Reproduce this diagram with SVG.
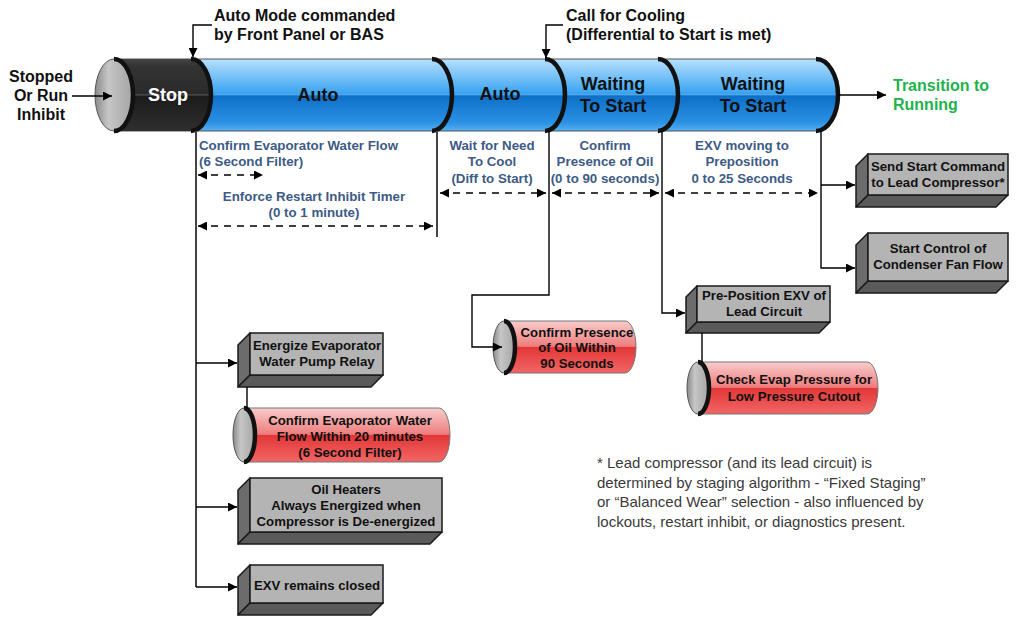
<svg xmlns="http://www.w3.org/2000/svg" width="1018" height="618" viewBox="0 0 1018 618">
<defs>
<linearGradient id="blueG" x1="0" y1="0" x2="0" y2="1">
<stop offset="0" stop-color="#b8e2fd"/><stop offset="0.12" stop-color="#98d1fa"/><stop offset="0.48" stop-color="#3aa3f1"/><stop offset="0.5" stop-color="#2e98ea"/><stop offset="0.5" stop-color="#0c6ec6"/><stop offset="0.88" stop-color="#2b91e4"/><stop offset="1" stop-color="#55aff0"/>
</linearGradient>
<linearGradient id="darkG" x1="0" y1="0" x2="0" y2="1">
<stop offset="0" stop-color="#444"/><stop offset="0.1" stop-color="#333"/><stop offset="0.5" stop-color="#2a2a2a"/><stop offset="0.5" stop-color="#1b1b1b"/><stop offset="1" stop-color="#2e2e2e"/>
</linearGradient>
<linearGradient id="capG" x1="0" y1="0" x2="1" y2="0">
<stop offset="0" stop-color="#8a8a8a"/><stop offset="0.35" stop-color="#c6c6c6"/><stop offset="1" stop-color="#a4a4a4"/>
</linearGradient>
<linearGradient id="redG" x1="0" y1="0" x2="0" y2="1">
<stop offset="0" stop-color="#f9cccc"/><stop offset="0.45" stop-color="#ef8383"/><stop offset="0.5" stop-color="#ec7272"/><stop offset="0.5" stop-color="#e23636"/><stop offset="1" stop-color="#f26666"/>
</linearGradient>
<marker id="ah" viewBox="0 0 10 10" refX="10" refY="5" markerWidth="10" markerHeight="9" markerUnits="userSpaceOnUse" orient="auto-start-reverse"><path d="M0,0 L10,5 L0,10 Z" fill="#000"/></marker>
</defs>
<style>
text{font-family:"Liberation Sans",Arial,sans-serif;font-weight:bold}
.ann{font-size:16px;fill:#111}
.cyl{font-size:18px;fill:#111;text-anchor:middle}
.lbl{font-size:13.3px;fill:#3d5b85}
.mid{text-anchor:middle}
.bt{font-size:13.2px;fill:#111;text-anchor:middle}
.note{font-size:15px;font-weight:normal;fill:#3a3a3a}
.face{fill:#b4b4b4;stroke:#1a1a1a;stroke-width:1.5}
.side{fill:#6c6c6c;stroke:#1a1a1a;stroke-width:1.5;stroke-linejoin:round}
.bot{fill:#5a5a5a;stroke:#1a1a1a;stroke-width:1.5;stroke-linejoin:round}
.cap{fill:url(#capG);stroke:#555;stroke-width:1}
.div{fill:none;stroke:#111;stroke-width:4.5}
.ln{fill:none;stroke:#000;stroke-width:1.4}
.vl{fill:none;stroke:#444;stroke-width:2}
.da{fill:none;stroke:#000;stroke-width:1.4;stroke-dasharray:7,6}
</style>

<!-- Main cylinder -->
<g id="main-cylinder">
<path d="M114,59 H816 A22,36 0 0 1 816,131 H114 Z" fill="url(#blueG)" stroke="#555" stroke-width="1"/>
<path d="M114,59 H191 A20,36 0 0 1 191,131 H114 Z" fill="url(#darkG)"/>
<line x1="114" y1="95" x2="836" y2="95" stroke="#ffffff" stroke-opacity="0.25" stroke-width="1"/>
<ellipse cx="114" cy="95" rx="19" ry="36" class="cap"/>
<path d="M114,59 A19,36 0 0 1 114,131" class="div" stroke-width="3.5"/>
<path d="M191,59 A20,36 0 0 1 191,131" class="div"/>
<path d="M432,59 A20,36 0 0 1 432,131" class="div"/>
<path d="M545,59 A20,36 0 0 1 545,131" class="div"/>
<path d="M658,59 A20,36 0 0 1 658,131" class="div"/>
<path d="M816,59 A22,36 0 0 1 816,131" class="div"/>
<text x="168" y="101" class="cyl" style="fill:#fff">Stop</text>
<text x="318" y="101" class="cyl">Auto</text>
<text x="500" y="100" class="cyl">Auto</text>
<text x="613" y="90" class="cyl">Waiting</text>
<text x="613" y="112" class="cyl">To Start</text>
<text x="753" y="90" class="cyl">Waiting</text>
<text x="753" y="112" class="cyl">To Start</text>
</g>

<!-- Annotations -->
<g id="label-stopped">
<text x="41" y="82" class="ann mid">Stopped</text>
<text x="41" y="101" class="ann mid">Or Run</text>
<text x="41" y="120" class="ann mid">Inhibit</text>
</g>
<g id="label-auto-mode">
<text x="214" y="21" class="ann">Auto Mode commanded</text>
<text x="214" y="40" class="ann">by Front Panel or BAS</text>
</g>
<g id="label-call-cooling">
<text x="566" y="21" class="ann">Call for Cooling</text>
<text x="566" y="40" class="ann">(Differential to Start is met)</text>
</g>
<g id="label-transition">
<text x="893" y="91" class="ann" style="fill:#22b24c">Transition to</text>
<text x="893" y="110" class="ann" style="fill:#22b24c">Running</text>
</g>

<!-- Timing labels -->
<g id="timing-labels">
<text x="199" y="150" class="lbl">Confirm Evaporator Water Flow</text>
<text x="199" y="166" class="lbl">(6 Second Filter)</text>
<text x="314" y="201" class="lbl mid">Enforce Restart Inhibit Timer</text>
<text x="314" y="217" class="lbl mid">(0 to 1 minute)</text>
<text x="492" y="150" class="lbl mid">Wait for Need</text>
<text x="492" y="166" class="lbl mid">To Cool</text>
<text x="492" y="183" class="lbl mid">(Diff to Start)</text>
<text x="605" y="150" class="lbl mid">Confirm</text>
<text x="605" y="166" class="lbl mid">Presence of Oil</text>
<text x="605" y="183" class="lbl mid">(0 to 90 seconds)</text>
<text x="742" y="150" class="lbl mid">EXV moving to</text>
<text x="742" y="166" class="lbl mid">Preposition</text>
<text x="742" y="183" class="lbl mid">0 to 25 Seconds</text>
</g>

<!-- Boxes -->
<g id="box-send-start">
<path d="M868,154 L856,166 L856,207 L868,195 Z" class="side"/>
<path d="M868,195 L856,207 L996,207 L1008,195 Z" class="bot"/>
<rect x="868" y="154" width="140" height="41" class="face"/>
<text x="938" y="171" class="bt">Send Start Command</text>
<text x="938" y="187" class="bt">to Lead Compressor*</text>
</g>
<g id="box-condenser-fan">
<path d="M868,233 L856,245 L856,293 L868,281 Z" class="side"/>
<path d="M868,281 L856,293 L996,293 L1008,281 Z" class="bot"/>
<rect x="868" y="233" width="140" height="48" class="face"/>
<text x="938" y="253" class="bt">Start Control of</text>
<text x="938" y="269" class="bt">Condenser Fan Flow</text>
</g>
<g id="box-preposition">
<path d="M697,286 L686,297 L686,333 L697,322 Z" class="side"/>
<path d="M697,322 L686,333 L819,333 L830,322 Z" class="bot"/>
<rect x="697" y="286" width="133" height="36" class="face"/>
<text x="764" y="300" class="bt">Pre-Position EXV of</text>
<text x="764" y="316" class="bt">Lead Circuit</text>
</g>
<g id="box-energize">
<path d="M250,333 L238,345 L238,387 L250,375 Z" class="side"/>
<path d="M250,375 L238,387 L371,387 L383,375 Z" class="bot"/>
<rect x="250" y="333" width="133" height="42" class="face"/>
<text x="317" y="350" class="bt">Energize Evaporator</text>
<text x="317" y="366" class="bt">Water Pump Relay</text>
</g>
<g id="box-oil-heaters">
<path d="M250,478 L238,490 L238,544 L250,532 Z" class="side"/>
<path d="M250,532 L238,544 L430,544 L442,532 Z" class="bot"/>
<rect x="250" y="478" width="192" height="54" class="face"/>
<text x="346" y="494" class="bt">Oil Heaters</text>
<text x="346" y="510" class="bt">Always Energized when</text>
<text x="346" y="526" class="bt">Compressor is De-energized</text>
</g>
<g id="box-exv-closed">
<path d="M250,565 L238,577 L238,615 L250,603 Z" class="side"/>
<path d="M250,603 L238,615 L371,615 L383,603 Z" class="bot"/>
<rect x="250" y="565" width="133" height="38" class="face"/>
<text x="317" y="590" class="bt">EXV remains closed</text>
</g>

<!-- Red cylinders -->
<g id="cyl-confirm-oil">
<path d="M504,321 H625 A11,26 0 0 1 625,373 H504 Z" fill="url(#redG)" stroke="#777" stroke-width="1"/>
<ellipse cx="504" cy="347" rx="11" ry="26" class="cap"/>
<path d="M504,321 A11,26 0 0 1 504,373" class="div" stroke-width="3"/>
<text x="577" y="337" class="bt">Confirm Presence</text>
<text x="577" y="352" class="bt">of Oil Within</text>
<text x="577" y="368" class="bt">90 Seconds</text>
</g>
<g id="cyl-check-evap">
<path d="M698,362 H867 A11,26 0 0 1 867,414 H698 Z" fill="url(#redG)" stroke="#777" stroke-width="1"/>
<ellipse cx="698" cy="388" rx="11" ry="26" class="cap"/>
<path d="M698,362 A11,26 0 0 1 698,414" class="div" stroke-width="3"/>
<text x="794" y="384" class="bt">Check Evap Pressure for</text>
<text x="794" y="401" class="bt">Low Pressure Cutout</text>
</g>
<g id="cyl-confirm-water">
<path d="M244,408 H439 A11,27 0 0 1 439,462 H244 Z" fill="url(#redG)" stroke="#777" stroke-width="1"/>
<ellipse cx="244" cy="435" rx="11" ry="27" class="cap"/>
<path d="M244,408 A11,27 0 0 1 244,462" class="div" stroke-width="3"/>
<text x="350" y="425" class="bt">Confirm Evaporator Water</text>
<text x="350" y="441" class="bt">Flow Within 20 minutes</text>
<text x="350" y="457" class="bt">(6 Second Filter)</text>
</g>

<!-- Connectors -->
<g id="connectors">
<path d="M72,96 H112" class="ln" marker-end="url(#ah)"/>
<path d="M838,95 H886" class="ln" marker-end="url(#ah)"/>
<path d="M212,25 H193 V57" class="ln" marker-end="url(#ah)"/>
<path d="M563,25 H546 V58" class="ln" marker-end="url(#ah)"/>
<path d="M196,131 V587" class="vl"/>
<path d="M196,363 H237" class="ln" marker-end="url(#ah)"/>
<path d="M196,507 H237" class="ln" marker-end="url(#ah)"/>
<path d="M196,587 H237" class="ln" marker-end="url(#ah)"/>
<path d="M247,387 V408" class="ln"/>
<path d="M437,131 V237" class="vl"/>
<path d="M549,131 V295 H472 V347 H502" class="ln" marker-end="url(#ah)"/>
<path d="M662,131 V313 H685" class="ln" marker-end="url(#ah)"/>
<path d="M702,333 V362" class="ln"/>
<path d="M821,131 V268 H855" class="ln" marker-end="url(#ah)"/>
<path d="M821,185 H855" class="ln" marker-end="url(#ah)"/>
<path d="M198,175 H263" class="da" marker-start="url(#ah)" marker-end="url(#ah)"/>
<path d="M198,226 H433" class="da" marker-start="url(#ah)" marker-end="url(#ah)"/>
<path d="M440,193 H546" class="da" marker-start="url(#ah)" marker-end="url(#ah)"/>
<path d="M552,193 H659" class="da" marker-start="url(#ah)" marker-end="url(#ah)"/>
<path d="M665,193 H818" class="da" marker-start="url(#ah)" marker-end="url(#ah)"/>
</g>

<!-- Footnote -->
<g id="footnote">
<text x="597" y="468" class="note">* Lead compressor (and its lead circuit) is</text>
<text x="597" y="488" class="note">determined by staging algorithm - “Fixed Staging”</text>
<text x="597" y="507" class="note">or “Balanced Wear” selection - also influenced by</text>
<text x="597" y="527" class="note">lockouts, restart inhibit, or diagnostics present.</text>
</g>
</svg>
